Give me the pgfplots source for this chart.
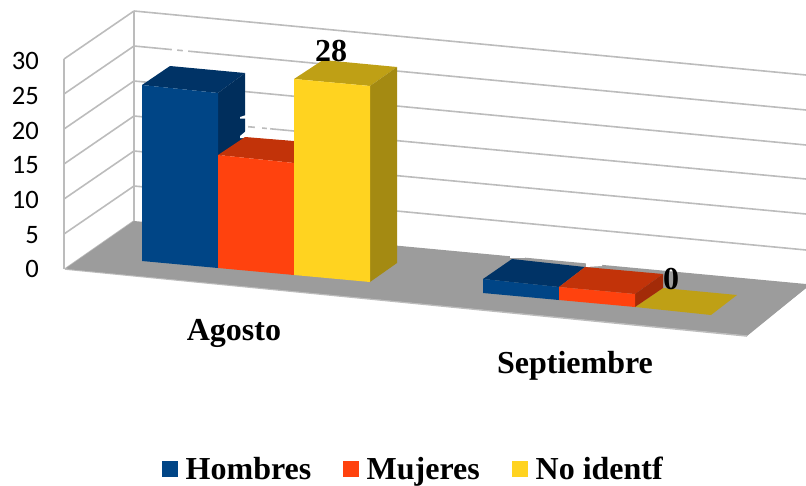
\documentclass[border=0pt]{standalone}
\usepackage{fontspec}
\setmainfont{Liberation Serif}
\newfontfamily\tickfont{Carlito}
\usepackage{pgfplots}
\pgfplotsset{compat=1.18}
\definecolor{gridc}{HTML}{BCBCBC}
\definecolor{floorc}{HTML}{9C9C9C}
\definecolor{blueF}{HTML}{004586}
\definecolor{blueT}{HTML}{003366}
\definecolor{blueS}{HTML}{002E5C}
\definecolor{orF}{HTML}{FF420E}
\definecolor{orT}{HTML}{C23309}
\definecolor{orS}{HTML}{A32B08}
\definecolor{yeF}{HTML}{FFD320}
\definecolor{yeT}{HTML}{BFA015}
\definecolor{yeS}{HTML}{A48A12}
\pgfplotsset{
  face/.style={fill=#1,draw=none,no markers,forget plot},
  gl/.style={draw=gridc,line width=1.6pt,no markers,forget plot},
  gap/.style={draw=white,line width=3pt,no markers,forget plot},
}
\begin{document}
\begin{tikzpicture}
\useasboundingbox (0,0) rectangle (806pt,485pt);
\begin{axis}[at={(0,0)},anchor=south west,scale only axis,width=806pt,height=485pt,
  xmin=0,xmax=806,ymin=0,ymax=485,y dir=reverse,hide axis,clip=true]
% left wall
\addplot[gl] coordinates {(64,59)(64,269)};
\addplot[gl] coordinates {(134,11)(134,221)};
\addplot[gl] coordinates {(64,59)(134,11)};
\addplot[gl] coordinates {(64,94)(134,46)};
\addplot[gl] coordinates {(64,129)(134,81)};
\addplot[gl] coordinates {(64,164)(134,116)};
\addplot[gl] coordinates {(64,199)(134,151)};
\addplot[gl] coordinates {(64,234)(134,186)};
% back wall
\addplot[gl] coordinates {(134,11)(806,75)};
\addplot[gl] coordinates {(134,46)(806,110)};
\addplot[gl] coordinates {(134,81)(806,145)};
\addplot[gl] coordinates {(134,116)(806,179)};
\addplot[gl] coordinates {(134,151)(806,214)};
\addplot[gl] coordinates {(134,186)(806,250)};
% broken pieces of the grid lines
\addplot[gap] coordinates {(172,49.6)(177,50.1)};
\addplot[gap] coordinates {(183,50.6)(188,51.1)};
\addplot[gap] coordinates {(245,126.4)(248,126.7)};
\addplot[gap] coordinates {(255,127.4)(262,128)};
\addplot[gap] coordinates {(267,128.5)(270,128.8)};
% floor
\addplot[gl] coordinates {(65,269)(134,221)};
\addplot[face=floorc] coordinates {(65,269)(134,221)(806,284)(806,288)(747,336)} --cycle;
\addplot[gl] coordinates {(65,269)(747,336)};
\addplot[face=floorc] coordinates {(67,269)(134,222)(806,285)(806,288)(747,335)} --cycle;
\addplot[face=white] coordinates {(510,254)(525,254)(525,258)(510,258)} --cycle;
\addplot[face=white] coordinates {(586,260)(602,260)(602,266)(586,267)} --cycle;
% Agosto: Hombres
\addplot[face=blueT] coordinates {(142,85)(218,93)(245,73)(170,66)} --cycle;
\addplot[face=blueS] coordinates {(218,93)(245,73)(245,140)(218,158)} --cycle;
\addplot[face=white] coordinates {(240,117)(246,115)(246,118.5)(240,118.5)} --cycle;
\addplot[face=white] coordinates {(240,136)(246,131)(246,138)(240,138)} --cycle;
\addplot[face=blueF] coordinates {(142,85)(218,93)(218,268)(142,261)} --cycle;
% Agosto: Mujeres
\addplot[face=orT] coordinates {(218,155)(294,163)(294,141)(245,137)} --cycle;
\addplot[face=orF] coordinates {(218,155)(294,163)(294,275)(218,268)} --cycle;
% Agosto: No identf
\addplot[face=yeT] coordinates {(294,79)(370,86)(397,67)(323,60)} --cycle;
\addplot[face=yeS] coordinates {(370,86)(397,67)(397,263)(370,282)} --cycle;
\addplot[face=yeF] coordinates {(294,79)(370,86)(370,282)(294,275)} --cycle;
% Septiembre
\addplot[face=yeT] coordinates {(635,307)(711,315)(737,295)(663,288)} --cycle;
\addplot[face=blueT] coordinates {(483,279)(559,287)(585,267)(512,259)} --cycle;
\addplot[face=blueF] coordinates {(483,279)(559,287)(559,300)(483,293)} --cycle;
\addplot[face=orT] coordinates {(559,287)(635,294)(663,274)(585,267)} --cycle;
\addplot[face=orS] coordinates {(635,294)(663,274)(663,288)(635,307)} --cycle;
\addplot[face=orF] coordinates {(559,287)(635,294)(635,307)(559,300)} --cycle;
% legend keys
\addplot[face=blueF] coordinates {(162,461)(178,461)(178,477)(162,477)} --cycle;
\addplot[face=orF] coordinates {(343,461)(359,461)(359,477)(343,477)} --cycle;
\addplot[face=yeF] coordinates {(512,461)(528,461)(528,477)(512,477)} --cycle;
% tick labels
\tikzset{tl/.style={anchor=east,inner sep=0pt,font=\fontsize{26.6pt}{28pt}\tickfont}}
\node[tl] at (axis cs:39,61) {30};
\node[tl] at (axis cs:39,96) {25};
\node[tl] at (axis cs:39,131) {20};
\node[tl] at (axis cs:39,165) {15};
\node[tl] at (axis cs:39,200) {10};
\node[tl] at (axis cs:39,235) {5};
\node[tl] at (axis cs:39,269) {0};
\tikzset{bt/.style={inner sep=0pt,font=\fontsize{32pt}{34pt}\bfseries}}
\node[bt,anchor=base] at (axis cs:234,340) {Agosto};
\node[bt,anchor=base] at (axis cs:575,373) {Septiembre};
\node[bt,anchor=base] at (axis cs:331,61) {28};
\node[bt,anchor=base] at (axis cs:671,289) {0};
\node[bt,anchor=base west] at (axis cs:185.5,479) {Hombres};
\node[bt,anchor=base west] at (axis cs:366.5,479) {Mujeres};
\node[bt,anchor=base west] at (axis cs:535.5,479) {No identf};
\end{axis}
\end{tikzpicture}
\end{document}
